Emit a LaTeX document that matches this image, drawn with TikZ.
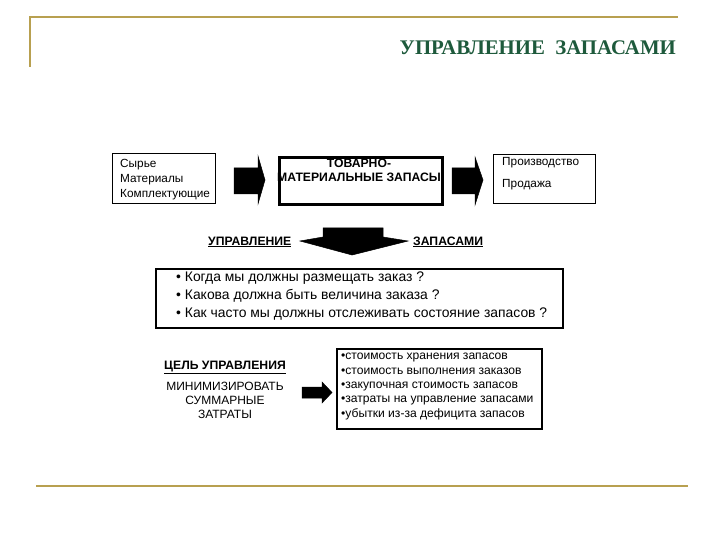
\documentclass[tikz,border=0pt]{standalone}
\usepackage{fontspec}
\setmainfont{Liberation Sans}
\newfontfamily\serifT{Liberation Serif}
\definecolor{gold}{HTML}{B8A050}
\definecolor{titlegreen}{HTML}{1E5A3C}
\tikzset{
  thinbox/.style={draw, line width=1pt, inner sep=0pt},
  thickbox/.style={draw, line width=3pt, inner sep=0pt},
  midbox/.style={draw, line width=2pt, inner sep=0pt},
  txt/.style={inner sep=0pt, font=\fontsize{11.8}{15}\selectfont},
  btxt/.style={inner sep=0pt, font=\bfseries\fontsize{12.2}{14}\selectfont},
  blockarrow/.style={fill=black, draw=black, line width=0.5pt, line join=miter},
  rule/.style={gold, line width=2.5pt}
}
\begin{document}
\begin{tikzpicture}[x=1pt,y=-1pt]
\useasboundingbox (0,0) rectangle (720,540);
% frame lines
\coordinate (tl) at (30,67);
\coordinate (tc) at (30,17);
\coordinate (tr) at (678,17);
\draw[rule] (tl) -- (tc) -- (tr);
\coordinate (bl) at (36,486);
\coordinate (br) at (688,486);
\draw[rule] (bl) -- (br);
% title
\node[anchor=base east, inner sep=0pt, text=titlegreen, font=\serifT\bfseries\fontsize{20.8}{20.8}\selectfont] (title) at (676,55) {УПРАВЛЕНИЕ\ \ ЗАПАСАМИ};
% box 1
\node[thinbox, minimum width=103pt, minimum height=50pt, anchor=north west] (b1) at (112,153) {};
\node[txt, align=left, anchor=west] (b1t) at (120,179.5) {Сырье\\Материалы\\Комплектующие};
% box 2
\node[thickbox, minimum width=163pt, minimum height=47pt, anchor=north west] (b2) at (278,156) {};
\node[btxt, align=center] (b2t) at (359,170) {ТОВАРНО-\\МАТЕРИАЛЬНЫЕ ЗАПАСЫ};
% box 3
\node[thinbox, minimum width=102pt, minimum height=49pt, anchor=north west] (b3) at (493,154) {};
\node[txt, align=left, anchor=west] (b3t) at (502,162.5) {Производство};
\node[txt, align=left, anchor=west] (b3u) at (502,185) {Продажа};
% arrows between boxes
\draw[blockarrow] (234,168) -- (258,168) -- (258,156) -- (265,180) -- (258,204) -- (258,194) -- (234,194) -- cycle;
\draw[blockarrow] (452,168) -- (475,168) -- (475,157) -- (483,180) -- (475,205) -- (475,194) -- (452,194) -- cycle;
% management labels
\node[btxt, anchor=base west] (m1) at (208,245) {\underline{УПРАВЛЕНИЕ}};
\node[btxt, anchor=base west] (m2) at (413,245) {\underline{ЗАПАСАМИ}};
% down arrow
\draw[blockarrow] (323,228) -- (383,228) -- (383,237) -- (408,241) -- (352,255) -- (300,241) -- (323,237) -- cycle;
% question box
\node[midbox, minimum width=407pt, minimum height=59pt, anchor=north west] (q) at (155,268) {};
\node[inner sep=0pt, anchor=west, font=\fontsize{13.9}{18}\selectfont, align=left] (qt) at (176,296.5) {• Когда мы должны размещать заказ ?\\• Какова должна быть величина заказа ?\\• Как часто мы должны отслеживать состояние запасов ?};
% goal
\node[btxt, anchor=base] (g1) at (225,369) {\underline{ЦЕЛЬ УПРАВЛЕНИЯ}};
\node[inner sep=0pt, align=center, font=\fontsize{12}{14}\selectfont] (g2) at (225,400.5) {МИНИМИЗИРОВАТЬ\\СУММАРНЫЕ\\ЗАТРАТЫ};
\draw[blockarrow] (302,387) -- (322,387) -- (322,382) -- (332,392.5) -- (322,403) -- (322,398) -- (302,398) -- cycle;
% cost box
\node[midbox, minimum width=205pt, minimum height=80pt, anchor=north west] (c) at (336,348) {};
\node[inner sep=0pt, anchor=west, align=left, font=\fontsize{12.1}{14.4}\selectfont] (ct) at (341,386.5) {•стоимость хранения запасов\\•стоимость выполнения заказов\\•закупочная стоимость запасов\\•затраты на управление запасами\\•убытки из-за дефицита запасов};
\end{tikzpicture}
\end{document}
